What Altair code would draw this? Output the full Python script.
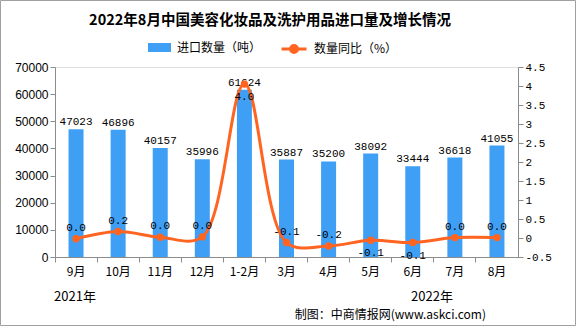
import altair as alt
import pandas as pd

months = ["9月", "10月", "11月", "12月", "1-2月", "3月", "4月", "5月", "6月", "7月", "8月"]
volume = [47023, 46896, 40157, 35996, 61624, 35887, 35200, 38092, 33444, 36618, 41055]
yoy = [-0.02, 0.17, 0.02, 0.03, 4.05, -0.12, -0.21, -0.06, -0.12, 0.01, 0.01]
yoy_labels = ["0.0", "0.2", "0.0", "0.0", "4.0", "-0.1", "-0.2", "-0.1", "-0.1", "0.0", "0.0"]
below_months = ["1-2月", "5月", "6月"]
left_ticks = [0, 10000, 20000, 30000, 40000, 50000, 60000, 70000]
right_ticks = [-0.5, 0, 0.5, 1, 1.5, 2, 2.5, 3, 3.5, 4, 4.5]
series_bar = "进口数量（吨）"
series_line = "数量同比（%）"
title_text = "2022年8月中国美容化妆品及洗护用品进口量及增长情况"

BLUE = "#3f9ff5"
ORANGE = "#ff6520"
GRAY = "#8c8c8c"
CJK = "Noto Sans CJK SC"
MONO = "Liberation Mono"

df = pd.DataFrame({"month": months, "volume": volume, "yoy": yoy, "yoy_label": yoy_labels,
                   "s_bar": [series_bar] * len(months), "s_line": [series_line] * len(months)})

x_axis = alt.Axis(bandPosition=0, labelAngle=0, tickSize=5, labelOverlap=False,
                  domainColor=GRAY, tickColor=GRAY, labelColor="black",
                  labelFont=CJK, labelFontSize=12, labelPadding=4, grid=False)
x_scale = alt.Scale(paddingInner=0, paddingOuter=0)
x_enc = alt.X("month:N", sort=months, title=None, scale=x_scale, axis=x_axis)

left_axis = alt.Axis(values=left_ticks, format="d", grid=False, tickSize=5,
                     labelOverlap=False, domainColor=GRAY, tickColor=GRAY,
                     labelColor="black", labelFont="Liberation Sans", labelFontSize=12)
y1 = alt.Y("volume:Q", title=None, scale=alt.Scale(domain=[0, 70000]), axis=left_axis)

right_axis = alt.Axis(orient="right", values=right_ticks, labelExpr="'' + datum.value",
                      grid=False, tickSize=5, domainColor=GRAY, tickColor=GRAY,
                      labelOverlap=False, labelColor="black", labelFont=MONO, labelFontSize=11)
y2 = alt.Y("yoy:Q", title=None, scale=alt.Scale(domain=[-0.5, 4.5]), axis=right_axis)

base = alt.Chart(df)

bars = base.mark_bar(size=15).encode(
    x=x_enc,
    y=y1,
    color=alt.Color("s_bar:N", scale=alt.Scale(range=[BLUE]),
                    legend=alt.Legend(orient="none", legendX=93, legendY=-31, title=None,
                                      symbolType="M-1,-0.39H1V0.39H-1Z", symbolSize=529,
                                      symbolStrokeWidth=0, labelFont=CJK, labelFontSize=12,
                                      labelColor="black", padding=0, labelOffset=6)),
)
bar_text = base.mark_text(baseline="bottom", dy=-2, font=MONO, fontSize=11, color="black").encode(
    x=x_enc,
    y=y1,
    text="volume:Q",
)
left = alt.layer(bars, bar_text)

line = base.mark_line(interpolate="catmull-rom", strokeWidth=3).encode(
    x=x_enc,
    y=y2,
    stroke=alt.Stroke("s_line:N", scale=alt.Scale(range=[ORANGE]),
                      legend=alt.Legend(orient="none", legendX=225, legendY=-32, title=None,
                                        symbolType="M-1,0H1M0.28,0A0.28,0.28,0,1,1,-0.28,0A0.28,0.28,0,1,1,0.28,0",
                                        symbolSize=625, symbolStrokeWidth=3,
                                        symbolFillColor=ORANGE,
                                        labelFont=CJK, labelFontSize=12,
                                        labelColor="black", padding=0, labelOffset=6)),
)
points = base.mark_point(filled=True, size=55, color=ORANGE, opacity=1).encode(
    x=x_enc,
    y=y2,
)
lbl_above = base.mark_text(baseline="bottom", dy=-6, font=MONO, fontSize=11, color="black").encode(
    x=x_enc,
    y=y2,
    text="yoy_label:N",
).transform_filter(~alt.FieldOneOfPredicate(field="month", oneOf=below_months))
lbl_below = base.mark_text(baseline="top", dy=7, font=MONO, fontSize=11, color="black").encode(
    x=x_enc,
    y=y2,
    text="yoy_label:N",
).transform_filter(alt.FieldOneOfPredicate(field="month", oneOf=below_months))
right = alt.layer(line, points, lbl_above, lbl_below)

title = alt.Chart(pd.DataFrame({"t": [title_text]})).mark_text(
    font=CJK, fontSize=14.5, fontWeight="bold", color="black").encode(
    x=alt.value(215), y=alt.value(-46), text="t:N")
year1 = alt.Chart(pd.DataFrame({"t": ["2021年"]})).mark_text(font=CJK, fontSize=13, color="black").encode(
    x=alt.value(20), y=alt.value(230), text="t:N")
year2 = alt.Chart(pd.DataFrame({"t": ["2022年"]})).mark_text(font=CJK, fontSize=13, color="black").encode(
    x=alt.value(377), y=alt.value(230), text="t:N")
source = alt.Chart(pd.DataFrame({"t": ["制图：中商情报网(www.askci.com)"]})).mark_text(
    font=CJK, fontSize=12, color="black", align="right").encode(
    x=alt.value(431), y=alt.value(248), text="t:N")
border = alt.Chart(pd.DataFrame({"t": [0]})).mark_rect(fill=None, stroke="#a0a0a0", strokeWidth=1).encode(
    x=alt.value(-54.5), x2=alt.value(520.5), y=alt.value(-66.5), y2=alt.value(258.5))

chart = alt.layer(left, right, title, year1, year2, source, border).resolve_scale(
    y="independent"
).properties(
    width=463, height=190,
    autosize=alt.AutoSizeParams(type="none"),
    padding={"left": 55, "top": 67, "right": 58, "bottom": 70},
).configure_view(stroke=None).configure(background="white")

chart.save("out.html", embed_options={"renderer": "svg", "actions": False})
